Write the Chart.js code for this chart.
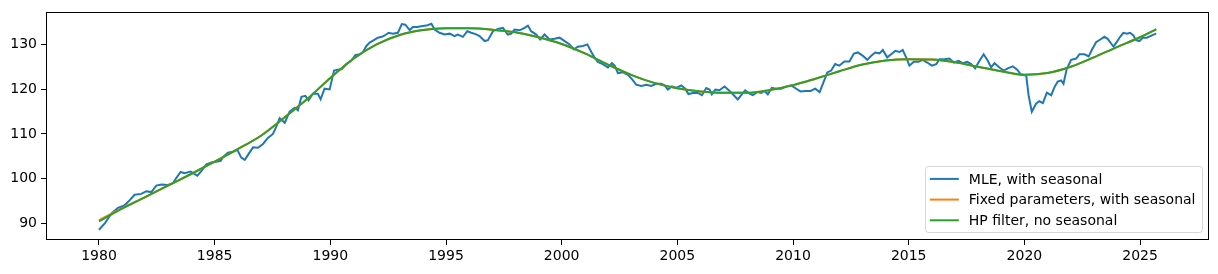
<!DOCTYPE html>
<html>
<head>
<meta charset="utf-8">
<script src="https://cdn.jsdelivr.net/npm/chart.js@4.4.1/dist/chart.umd.min.js"></script>
<style>
    html, body { margin: 0; padding: 0; background: #ffffff; }
    #wrap { width: 1218px; height: 274px; }
</style>
</head>
<body>
<div id="wrap"><canvas id="grafico" width="1218" height="274"></canvas></div>
<script>
// Tick labels
var xTicks = [1980, 1985, 1990, 1995, 2000, 2005, 2010, 2015, 2020, 2025];
var yTicks = [90, 100, 110, 120, 130];

// MLE, with seasonal (blue)
var mleYears = [
    1980.00, 1980.25, 1980.53, 1980.82, 1981.10, 1981.33, 1981.54, 1981.83, 1982.05, 1982.26,
    1982.48, 1982.70, 1982.98, 1983.20, 1983.34, 1983.53, 1983.70, 1983.96, 1984.14, 1984.25,
    1984.43, 1984.64, 1984.86, 1985.07, 1985.26, 1985.36, 1985.57, 1985.79, 1985.98, 1986.15,
    1986.30, 1986.47, 1986.66, 1986.87, 1987.09, 1987.30, 1987.52, 1987.67, 1987.81, 1988.03,
    1988.24, 1988.46, 1988.60, 1988.75, 1988.92, 1989.06, 1989.25, 1989.46, 1989.58, 1989.75,
    1989.97, 1990.16, 1990.33, 1990.50, 1990.69, 1990.90, 1991.08, 1991.27, 1991.41, 1991.56,
    1991.70, 1991.88, 1992.06, 1992.23, 1992.35, 1992.52, 1992.70, 1992.92, 1993.09, 1993.24,
    1993.43, 1993.57, 1993.76, 1993.93, 1994.15, 1994.37, 1994.51, 1994.72, 1994.94, 1995.16,
    1995.37, 1995.51, 1995.73, 1995.92, 1996.09, 1996.28, 1996.45, 1996.67, 1996.81, 1997.03,
    1997.24, 1997.46, 1997.67, 1997.82, 1997.96, 1998.18, 1998.40, 1998.54, 1998.68, 1998.90,
    1999.07, 1999.26, 1999.48, 1999.69, 1999.91, 2000.13, 2000.34, 2000.53, 2000.70, 2000.92,
    2001.11, 2001.28, 2001.42, 2001.56, 2001.78, 2002.00, 2002.17, 2002.29, 2002.43, 2002.65,
    2002.86, 2003.03, 2003.22, 2003.44, 2003.66, 2003.87, 2004.09, 2004.30, 2004.45, 2004.59,
    2004.76, 2004.95, 2005.17, 2005.34, 2005.48, 2005.67, 2005.89, 2006.06, 2006.25, 2006.39,
    2006.49, 2006.64, 2006.82, 2007.04, 2007.26, 2007.44, 2007.61, 2007.76, 2007.93, 2008.12,
    2008.26, 2008.45, 2008.63, 2008.77, 2008.91, 2009.08, 2009.27, 2009.49, 2009.71, 2009.92,
    2010.14, 2010.32, 2010.53, 2010.76, 2010.96, 2011.15, 2011.29, 2011.48, 2011.65, 2011.82,
    2012.00, 2012.22, 2012.44, 2012.63, 2012.80, 2013.02, 2013.21, 2013.38, 2013.55, 2013.74,
    2013.88, 2014.07, 2014.24, 2014.42, 2014.60, 2014.74, 2014.89, 2015.03, 2015.22, 2015.42,
    2015.61, 2015.80, 2016.00, 2016.19, 2016.33, 2016.55, 2016.76, 2016.95, 2017.15, 2017.34,
    2017.53, 2017.70, 2017.87, 2018.06, 2018.24, 2018.42, 2018.56, 2018.71, 2018.92, 2019.11,
    2019.28, 2019.50, 2019.69, 2019.86, 2020.08, 2020.18, 2020.32, 2020.51, 2020.65, 2020.80,
    2020.97, 2021.16, 2021.30, 2021.44, 2021.59, 2021.69, 2021.83, 2022.02, 2022.24, 2022.38,
    2022.60, 2022.78, 2022.93, 2023.10, 2023.28, 2023.46, 2023.60, 2023.75, 2023.85, 2023.99,
    2024.14, 2024.28, 2024.43, 2024.57, 2024.71, 2024.83, 2024.97, 2025.12, 2025.29, 2025.44,
    2025.58, 2025.70
];
var mleValues = [
    88.6, 90.0, 92.2, 93.5, 94.0, 95.2, 96.4, 96.6, 97.2, 97.0,
    98.45, 98.7, 98.6, 99.0, 100.15, 101.5, 101.2, 101.6, 101.0, 100.65,
    101.75, 103.2, 103.6, 103.8, 104.0, 104.8, 105.8, 106.0, 106.45, 104.7,
    104.2, 105.55, 107.0, 106.9, 107.75, 109.1, 110.0, 111.7, 113.5, 112.5,
    115.0, 115.85, 115.3, 118.3, 118.5, 117.5, 119.0, 119.0, 117.75, 120.1,
    119.95, 124.15, 124.35, 124.5, 125.6, 126.35, 127.6, 127.8, 128.3, 129.65,
    130.4, 130.95, 131.5, 131.7, 132.0, 132.6, 132.4, 132.6, 134.55, 134.4,
    133.2, 133.9, 133.9, 134.05, 134.2, 134.6, 133.3, 132.6, 132.2, 132.4,
    131.85, 132.2, 131.7, 132.95, 132.6, 132.3, 131.85, 130.75, 130.95, 132.95,
    133.45, 133.7, 132.2, 132.4, 133.3, 133.15, 133.7, 134.2, 132.95, 132.2,
    131.1, 132.2, 131.1, 131.25, 131.5, 130.75, 130.0, 128.9, 129.5, 129.65,
    130.0, 128.3, 127.1, 126.1, 125.6, 124.85, 125.8, 125.25, 123.6, 123.75,
    123.2, 122.3, 121.0, 120.7, 121.0, 120.7, 121.2, 121.2, 120.85, 119.9,
    120.6, 120.3, 120.85, 120.1, 118.9, 119.15, 119.15, 118.65, 120.25, 119.9,
    118.85, 119.9, 119.75, 120.6, 119.6, 118.65, 117.7, 118.65, 119.75, 119.0,
    118.65, 119.35, 119.15, 119.6, 118.85, 120.3, 120.1, 120.1, 120.6, 120.85,
    120.1, 119.5, 119.6, 119.6, 120.1, 119.35, 121.2, 123.75, 124.15, 125.6,
    125.25, 126.2, 126.2, 127.95, 128.2, 127.45, 126.55, 127.45, 128.2, 128.0,
    128.75, 127.1, 127.8, 128.55, 128.3, 128.75, 127.1, 125.25, 126.1, 126.1,
    126.55, 125.95, 125.25, 125.6, 126.7, 126.7, 126.85, 125.95, 126.35, 125.8,
    126.1, 125.6, 124.65, 126.35, 127.8, 126.35, 124.85, 125.8, 124.85, 124.15,
    124.65, 125.1, 124.35, 123.2, 123.05, 118.65, 114.95, 116.8, 117.3, 116.9,
    119.2, 118.65, 120.45, 121.7, 121.95, 121.2, 124.5, 126.55, 126.85, 127.8,
    127.8, 127.3, 128.9, 130.5, 131.1, 131.7, 131.25, 130.2, 129.5, 130.5,
    131.7, 132.6, 132.4, 132.6, 132.0, 130.95, 130.75, 131.5, 131.5, 131.85,
    132.2, 132.4
];

// Smooth trends (orange lies under green)
var trendYears = [
    1980, 1981, 1982, 1983, 1984, 1985, 1986, 1987, 1988, 1989,
    1990, 1991, 1992, 1993, 1994, 1995, 1996, 1997, 1998, 1999,
    2000, 2001, 2002, 2003, 2004, 2005, 2006, 2007, 2008, 2009,
    2010, 2011, 2012, 2013, 2014, 2015, 2016, 2017, 2018, 2019,
    2020, 2021, 2022, 2023, 2024, 2025, 2025.7
];
var fixedValues = [
    90.7, 93.4, 95.9, 98.5, 101.1, 103.8, 106.6, 109.6, 113.6, 117.8,
    122.5, 126.8, 130.0, 132.1, 133.2, 133.6, 133.6, 133.3, 132.7, 131.6,
    130.1, 128.0, 125.5, 123.2, 121.4, 120.2, 119.5, 119.2, 119.2, 119.8,
    120.9, 122.4, 124.0, 125.5, 126.4, 126.7, 126.6, 126.0, 125.0, 124.0,
    123.2, 123.6, 125.0, 127.1, 129.4, 131.6, 133.3
];
var hpValues = [
    90.45, 93.3, 95.9, 98.5, 101.1, 103.8, 106.6, 109.6, 113.6, 117.8,
    122.5, 126.8, 130.0, 132.1, 133.2, 133.6, 133.6, 133.3, 132.7, 131.6,
    130.1, 128.0, 125.5, 123.2, 121.4, 120.2, 119.5, 119.2, 119.2, 119.8,
    120.9, 122.4, 124.0, 125.5, 126.4, 126.7, 126.6, 126.0, 125.0, 124.0,
    123.2, 123.6, 125.0, 127.1, 129.4, 131.6, 133.4
];

function paraPontos(xs, ys) {
    return xs.map(function (x, i) { return { x: x, y: ys[i] }; });
}

var FONTE = 'DejaVu Sans';

// Frame round the plot area + legend box inside, bottom-right (matplotlib style)
var molduraLegenda = {
    id: 'molduraLegenda',
    afterDraw: function (chart) {
        var ctx = chart.ctx;
        var a = chart.chartArea;
        ctx.save();
        ctx.strokeStyle = '#000000';
        ctx.lineWidth = 1;
        ctx.strokeRect(Math.round(a.left) + 0.5, Math.round(a.top) + 0.5,
            Math.round(a.right - a.left) - 1, Math.round(a.bottom - a.top) - 1);

        ctx.font = '14px "' + FONTE + '"';
        var ds = chart.data.datasets;
        var maxW = 0;
        ds.forEach(function (d) { maxW = Math.max(maxW, ctx.measureText(d.label).width); });
        var linha = 20.7, padX = 4.5, handle = 29, gap = 10;
        var w = padX + handle + gap + maxW + 6.5;
        var h = linha * ds.length + 4;
        var x0 = a.right - 7 - w;
        var y0 = a.bottom - 7.5 - h;
        ctx.beginPath();
        ctx.roundRect(Math.round(x0) + 0.5, Math.round(y0) + 0.5, Math.round(w), Math.round(h), 3);
        ctx.fillStyle = 'rgba(255,255,255,0.8)';
        ctx.fill();
        ctx.strokeStyle = '#d6d6d6';
        ctx.stroke();
        ctx.textBaseline = 'middle';
        ctx.fillStyle = '#000000';
        ds.forEach(function (d, i) {
            var cy = y0 + 12.5 + i * linha;
            ctx.beginPath();
            ctx.strokeStyle = d.borderColor;
            ctx.lineWidth = 2;
            ctx.moveTo(x0 + padX, cy);
            ctx.lineTo(x0 + padX + handle, cy);
            ctx.stroke();
            ctx.fillText(d.label, x0 + padX + handle + gap, cy + 1);
        });
        ctx.restore();
    }
};

new Chart(document.getElementById('grafico').getContext('2d'), {
    type: 'line',
    data: {
        datasets: [
            {
                label: 'MLE, with seasonal',
                data: paraPontos(mleYears, mleValues),
                borderColor: '#1f77b4',
                borderWidth: 2,
                pointRadius: 0,
                tension: 0,
                order: 3
            },
            {
                label: 'Fixed parameters, with seasonal',
                data: paraPontos(trendYears, fixedValues),
                borderColor: '#ff7f0e',
                borderWidth: 2,
                pointRadius: 0,
                cubicInterpolationMode: 'monotone',
                order: 2
            },
            {
                label: 'HP filter, no seasonal',
                data: paraPontos(trendYears, hpValues),
                borderColor: '#2ca02c',
                borderWidth: 2,
                pointRadius: 0,
                cubicInterpolationMode: 'monotone',
                order: 1
            }
        ]
    },
    options: {
        responsive: false,
        animation: false,
        layout: { padding: { left: 0, right: 9, top: 9, bottom: 0 } },
        plugins: {
            legend: { display: false },
            tooltip: { enabled: false }
        },
        scales: {
            x: {
                type: 'linear',
                min: 1977.71,
                max: 2027.98,
                afterBuildTicks: function (s) { s.ticks = xTicks.map(function (v) { return { value: v }; }); },
                afterFit: function (s) { s.height = 34; },
                grid: { drawOnChartArea: false, drawTicks: true, tickLength: 5, tickColor: '#000000' },
                border: { display: false },
                ticks: {
                    color: '#000000',
                    padding: 3,
                    maxRotation: 0,
                    font: { family: FONTE, size: 14 },
                    callback: function (v) { return String(v); }
                }
            },
            y: {
                type: 'linear',
                min: 86.3,
                max: 137.15,
                afterBuildTicks: function (s) { s.ticks = yTicks.map(function (v) { return { value: v }; }); },
                afterFit: function (s) { s.width = 46; },
                grid: { drawOnChartArea: false, drawTicks: true, tickLength: 5, tickColor: '#000000' },
                border: { display: false },
                ticks: {
                    color: '#000000',
                    padding: 4,
                    font: { family: FONTE, size: 14 },
                    callback: function (v) { return String(v); }
                }
            }
        }
    },
    plugins: [molduraLegenda]
});
</script>
</body>
</html>
